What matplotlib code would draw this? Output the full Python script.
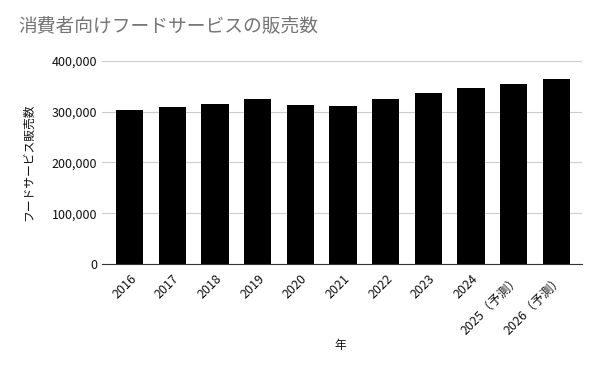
import matplotlib
matplotlib.use("Agg")
import matplotlib.pyplot as plt
from matplotlib.ticker import FuncFormatter

plt.rcParams['font.family'] = ['Noto Sans CJK JP', 'DejaVu Sans']

years = ['2016', '2017', '2018', '2019', '2020', '2021', '2022', '2023', '2024',
         '2025（予測）', '2026（予測）']
sales = [304000, 310000, 316000, 324000, 314000, 312000, 324000, 336000, 346000,
         354000, 364000]

fig = plt.figure(figsize=(6, 3.71), dpi=100)
ax = fig.add_axes([0.17, 0.288, 0.80, 0.548])

ax.bar(range(len(years)), sales, width=0.64, color='black', zorder=3)

ax.set_ylim(0, 400000)
ax.set_xlim(-0.65, len(years) - 0.4)
ax.set_yticks([0, 100000, 200000, 300000, 400000])
ax.yaxis.set_major_formatter(FuncFormatter(lambda v, p: f'{int(v):,}'))
ax.set_xticks(range(len(years)))
ax.set_xticklabels(years, rotation=45, ha='right', rotation_mode='anchor')
ax.tick_params(axis='both', length=0, labelsize=9, colors='#111111')
ax.tick_params(axis='x', pad=6)
ax.grid(axis='y', color='#cccccc', linewidth=0.8, zorder=0)
for s in ['top', 'right', 'left']:
    ax.spines[s].set_visible(False)
ax.spines['bottom'].set_color('#333333')
ax.spines['bottom'].set_zorder(4)

ax.set_ylabel('フードサービス販売数', fontsize=8.5, color='#111111', labelpad=12)
fig.text(0.567, 0.07, '年', fontsize=8.5, color='#111111', ha='center', va='center')

fig.text(0.03, 0.915, '消費者向けフードサービスの販売数', fontsize=13.5, color='#757575')

fig.savefig('out.png', dpi=100)
